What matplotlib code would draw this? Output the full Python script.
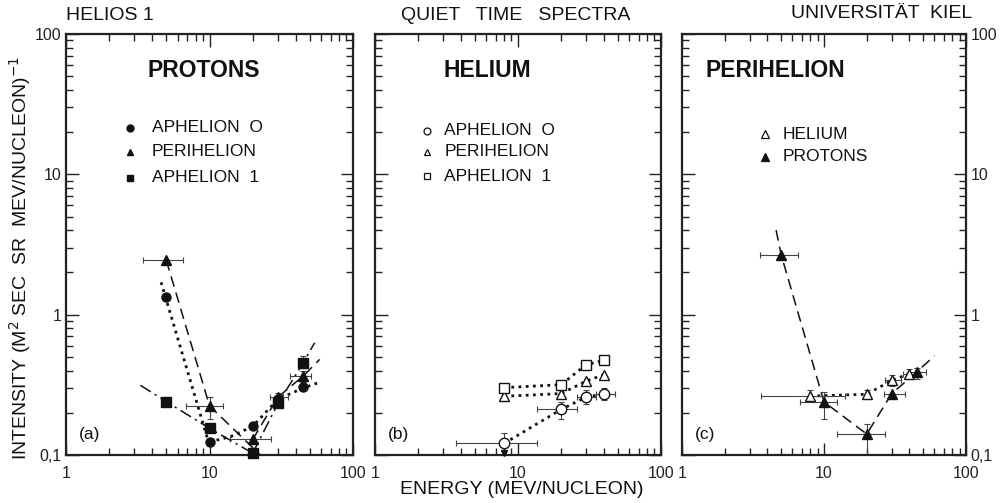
import numpy as np
import matplotlib
matplotlib.use('Agg')
import matplotlib.pyplot as plt
from matplotlib.ticker import LogLocator, NullFormatter, FixedFormatter, FixedLocator

plt.rcParams['font.family'] = ['Liberation Sans', 'DejaVu Sans']

# ---- panel (a): protons ----
a_energy = [5, 10, 20, 30, 45]
a_aph0 = [1.33, 0.124, 0.16, 0.25, 0.305]
a_peri = [2.44, 0.224, 0.129, 0.259, 0.365]
a_aph1 = [0.24, 0.155, 0.103, 0.233, 0.454]
a_peri_xerr = [(3.45, 6.5), (6.9, 12.4), (13.8, 26.8), (26.5, 35.2), (36.6, 50.6)]
a_peri_yerr = [(2.44, 2.44), (0.18, 0.26), (0.129, 0.129), (0.245, 0.275), (0.33, 0.40)]
a_aph1_yerr = [(0.24, 0.24), (0.155, 0.155), (0.103, 0.103), (0.22, 0.25), (0.42, 0.51)]
# fit lines drawn in the figure
a_aph0_fit_x = [[4.6, 9.6, 10], [10, 14, 20, 30, 45, 58.6]]
a_aph0_fit_y = [[1.7, 0.135, 0.124], [0.124, 0.135, 0.16, 0.25, 0.3, 0.33]]
a_peri_fit_x = [[5, 10, 22.6], [20, 30, 45, 58.6]]
a_peri_fit_y = [[2.44, 0.224, 0.1], [0.129, 0.259, 0.365, 0.48]]
a_aph1_fit_x = [[3.3, 5, 10, 20], [20, 30, 45, 54]]
a_aph1_fit_y = [[0.314, 0.24, 0.155, 0.103], [0.103, 0.233, 0.454, 0.63]]

# ---- panel (b): helium ----
b_energy = [8, 20, 30, 40]
b_aph0 = [0.121, 0.211, 0.259, 0.272]
b_peri = [0.262, 0.274, 0.336, 0.374]
b_aph1 = [0.302, 0.317, 0.44, 0.472]
b_aph0_xerr = [(3.7, 13.5), (13.5, 26), (25.8, 35), (35, 48)]
b_aph0_yerr = [(0.1, 0.143), (0.18, 0.24), (0.23, 0.29), (0.245, 0.30)]

# ---- panel (c): perihelion ----
c_p_energy = [5, 10, 20, 30, 45]
c_protons = [2.66, 0.239, 0.141, 0.274, 0.39]
c_p_xerr = [(3.57, 6.6), (6.8, 12.3), (12.4, 26.7), (26.3, 37), (40, 52)]
c_p_yerr = [(2.66, 2.66), (0.18, 0.28), (0.1, 0.165), (0.274, 0.274), (0.35, 0.42)]
c_h_energy = [8, 20, 30, 40]
c_helium = [0.263, 0.271, 0.34, 0.38]
c_h_xerr = [(3.6, 14), (20, 20), (27, 35), (36, 44)]
c_h_yerr = [(0.24, 0.29), (0.25, 0.29), (0.31, 0.37), (0.35, 0.41)]
c_p_fit_x = [4.6, 5, 10, 20, 30, 45, 60]
c_p_fit_y = [4.0, 2.66, 0.239, 0.141, 0.274, 0.39, 0.51]

x_ticks = [1, 10, 100]
x_labels = ['1', '10', '100']
y_ticks = [0.1, 1, 10, 100]
y_labels = ['0,1', '1', '10', '100']

DASH = (0, (7, 4))
DOT = (0, (1, 1.6))
DASHDOT = (0, (8, 3, 1.5, 3))


def xe(vals, lo_hi):
    return np.array([[v - lo for v, (lo, hi) in zip(vals, lo_hi)],
                     [hi - v for v, (lo, hi) in zip(vals, lo_hi)]])


def setup(ax, left_labels, right_labels):
    ax.set_xscale('log')
    ax.set_yscale('log')
    ax.set_xlim(1, 100)
    ax.set_ylim(0.1, 100)
    ax.xaxis.set_major_locator(FixedLocator(x_ticks))
    ax.xaxis.set_major_formatter(FixedFormatter(x_labels))
    ax.yaxis.set_major_locator(FixedLocator(y_ticks))
    ax.yaxis.set_major_formatter(FixedFormatter(y_labels))
    ax.xaxis.set_minor_locator(LogLocator(base=10, subs=np.arange(2, 10)))
    ax.yaxis.set_minor_locator(LogLocator(base=10, subs=np.arange(2, 10)))
    ax.xaxis.set_minor_formatter(NullFormatter())
    ax.yaxis.set_minor_formatter(NullFormatter())
    ax.tick_params(which='both', direction='in', top=True, right=True,
                   labelleft=left_labels, labelright=right_labels,
                   labelsize=11.5, width=1.0, color='#222222', labelcolor='#222222')
    ax.tick_params(which='major', length=9)
    ax.tick_params(which='minor', length=5)
    ax.tick_params(axis='x', pad=8)
    for s in ax.spines.values():
        s.set_linewidth(1.6)
        s.set_color('#222222')


def err(ax, x, y, xlh, ylh):
    ax.errorbar(x, y, xerr=xe(x, xlh), yerr=xe(y, ylh), fmt='none',
                ecolor='#444444', elinewidth=0.8, capsize=2, capthick=0.8, zorder=2)


fig = plt.figure(figsize=(10.06, 5.03), dpi=100)
W, H = 1006, 503
top, bot = 34, 455
ax_a = fig.add_axes([66 / W, 1 - bot / H, 287 / W, (bot - top) / H])
ax_b = fig.add_axes([375 / W, 1 - bot / H, 286 / W, (bot - top) / H])
ax_c = fig.add_axes([682 / W, 1 - bot / H, 284 / W, (bot - top) / H])
setup(ax_a, True, False)
setup(ax_b, False, False)
setup(ax_c, False, True)

k = '#111111'
ms = 6.5

# panel a
for xs, ys in zip(a_aph0_fit_x, a_aph0_fit_y):
    ax_a.plot(xs, ys, color=k, lw=2.0, linestyle=DOT)
for xs, ys in zip(a_peri_fit_x, a_peri_fit_y):
    ax_a.plot(xs, ys, color=k, lw=1.1, linestyle=DASH)
for xs, ys in zip(a_aph1_fit_x, a_aph1_fit_y):
    ax_a.plot(xs, ys, color=k, lw=1.1, linestyle=DASHDOT)
err(ax_a, a_energy, a_peri, a_peri_xerr, a_peri_yerr)
ax_a.errorbar(a_energy, a_aph1, yerr=xe(a_aph1, a_aph1_yerr), fmt='none',
              ecolor='#444444', elinewidth=0.8, capsize=2, capthick=0.8)
ax_a.plot(a_energy, a_aph0, 'o', color=k, ms=ms, ls='none', zorder=4, clip_on=False)
ax_a.plot(a_energy, a_peri, '^', color=k, ms=ms + 1, ls='none', zorder=4, clip_on=False)
ax_a.plot(a_energy, a_aph1, 's', color=k, ms=ms, ls='none', zorder=4, clip_on=False)

# panel b
for vals in [b_aph1, b_peri, b_aph0]:
    ax_b.plot(b_energy, vals, color=k, lw=2.0, linestyle=DOT)
err(ax_b, b_energy, b_aph0, b_aph0_xerr, b_aph0_yerr)
ax_b.plot([b_energy[0]], [0.103], 'v', color=k, ms=4, clip_on=False, zorder=5)
ax_b.plot(b_energy, b_aph0, 'o', mfc='white', mec=k, mew=1.0, ms=ms + 1, ls='none', zorder=4)
ax_b.plot(b_energy, b_peri, '^', mfc='white', mec=k, mew=1.0, ms=ms + 1, ls='none', zorder=4)
ax_b.plot(b_energy, b_aph1, 's', mfc='white', mec=k, mew=1.0, ms=ms + 1, ls='none', zorder=4)

# panel c
ax_c.plot(c_p_fit_x, c_p_fit_y, color=k, lw=1.1, linestyle=DASH)
ax_c.plot(c_h_energy, c_helium, color=k, lw=2.0, linestyle=DOT)
err(ax_c, c_p_energy, c_protons, c_p_xerr, c_p_yerr)
err(ax_c, c_h_energy, c_helium, c_h_xerr, c_h_yerr)
ax_c.plot(c_h_energy, c_helium, '^', mfc='white', mec=k, mew=1.0, ms=ms + 1, ls='none', zorder=4)
ax_c.plot(c_p_energy, c_protons, '^', color=k, ms=ms + 1, ls='none', zorder=4, clip_on=False)

# panel headings and legends
big = dict(fontsize=16.5, fontweight='bold', ha='center', va='center', color=k)
small = dict(fontsize=12.5, ha='left', va='center', color=k)
ax_a.text(0.481, 0.914, 'PROTONS', transform=ax_a.transAxes, **big)
ax_b.text(0.392, 0.914, 'HELIUM', transform=ax_b.transAxes, **big)
ax_c.text(0.327, 0.914, 'PERIHELION', transform=ax_c.transAxes, **big)

for y, mk, lab in [(0.777, 'o', 'APHELION  O'), (0.72, '^', 'PERIHELION'), (0.658, 's', 'APHELION  1')]:
    ax_a.plot([0.223], [y], mk, color=k, ms=5, transform=ax_a.transAxes, clip_on=False)
    ax_a.text(0.30, y, lab, transform=ax_a.transAxes, **small)
for y, mk, lab in [(0.770, 'o', 'APHELION  O'), (0.72, '^', 'PERIHELION'), (0.662, 's', 'APHELION  1')]:
    ax_b.plot([0.182], [y], mk, mfc='white', mec=k, mew=0.9, ms=5, transform=ax_b.transAxes, clip_on=False)
    ax_b.text(0.242, y, lab, transform=ax_b.transAxes, **small)
for y, mfc, lab in [(0.762, 'white', 'HELIUM'), (0.708, k, 'PROTONS')]:
    ax_c.plot([0.292], [y], '^', mfc=mfc, mec=k, mew=0.9, ms=6, transform=ax_c.transAxes, clip_on=False)
    ax_c.text(0.356, y, lab, transform=ax_c.transAxes, **small)

for ax, lab in [(ax_a, '(a)'), (ax_b, '(b)'), (ax_c, '(c)')]:
    ax.text(0.045, 0.03, lab, transform=ax.transAxes, fontsize=12.5, ha='left', va='bottom', color=k)

# figure titles
fig.text(66 / W, 1 - 16 / H, 'HELIOS 1', fontsize=14, ha='left', va='center', color=k)
fig.text(516 / W, 1 - 16 / H, 'QUIET   TIME   SPECTRA', fontsize=14, ha='center', va='center', color=k)
fig.text(972 / W, 1 - 14 / H, 'UNIVERSITÄT  KIEL', fontsize=14, ha='right', va='center', color=k)
fig.text(522 / W, 1 - 490 / H, 'ENERGY (MEV/NUCLEON)', fontsize=14, ha='center', va='center', color=k)
fig.text(20 / W, 1 - 258 / H, 'INTENSITY (M$^2$ SEC  SR  MEV/NUCLEON)$^{-1}$', fontsize=14,
         rotation=90, ha='center', va='center', color=k)

fig.savefig('out.png', dpi=100)
